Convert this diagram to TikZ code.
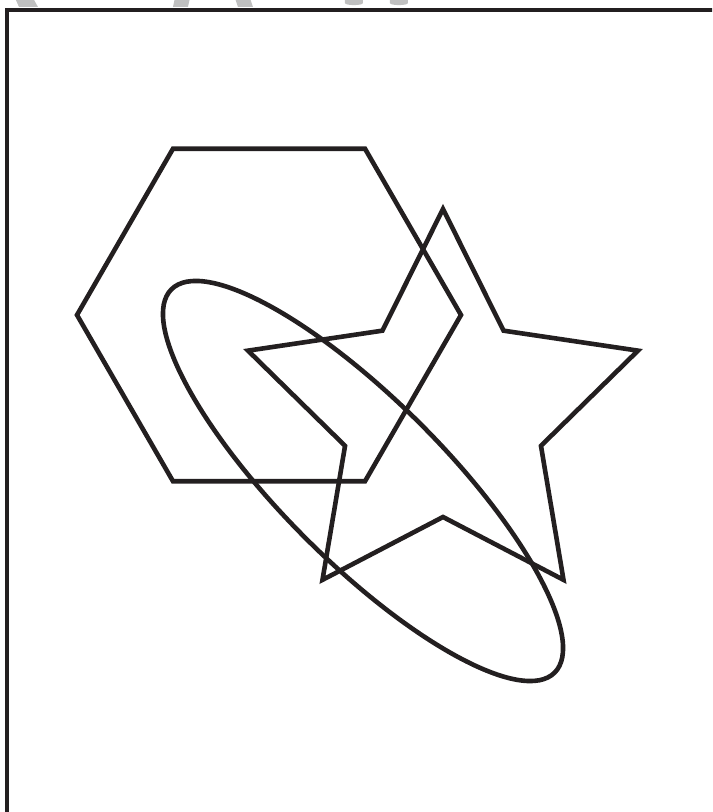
\documentclass[tikz,border=0pt]{standalone}
\usepackage{xcolor}
\definecolor{shapeblack}{RGB}{35,31,32}
\definecolor{markgray}{RGB}{192,192,192}
\usetikzlibrary{calc}

\begin{document}
\begin{tikzpicture}
  \useasboundingbox (0,0) rectangle (17.8,20.3);
  \clip (0,0) rectangle (17.8,20.3);
  \tikzset{outline/.style={draw=shapeblack, line width=0.115cm, line join=miter}}

  % Cut-off watermark at top
  \begin{scope}[shift={(0,20.3)}, x=0.025cm, y=-0.025cm]
    \fill[markgray] (15,-2) -- (33,-2) -- (38,7) -- (19,7) -- cycle;
    \fill[markgray] (175,-2) -- (190,-2) -- (188,7) -- (173,7) -- cycle;
    \fill[markgray] (235,-2) -- (250,-2) -- (253,7) -- (238,7) -- cycle;
    \fill[markgray] (345,-2) -- (363,-2) -- (363,3) to[out=-90,in=-90,looseness=0.4] (345,3) -- cycle;
    \fill[markgray] (390,-2) -- (408,-2) -- (408,3) to[out=-90,in=-90,looseness=0.4] (390,3) -- cycle;
  \end{scope}

  % Frame
  \draw[shapeblack, line width=2.2pt] (0.175,-1) -- (0.175,20.05) -- (19,20.05);

  % Hexagon
  \coordinate (hexc) at (6.725,12.425);
  \draw[outline] ($(hexc)+(0:4.8)$)
    \foreach \a in {60,120,...,300} { -- ($(hexc)+(\a:4.8)$) } -- cycle;

  % Star
  \coordinate (starc) at (11.075,9.95);
  \draw[outline] ($(starc)+(90:5.125)$)
    \foreach \a in {90,162,234,306,378} { -- ($(starc)+(\a:5.125)$) -- ($(starc)+(\a+36:2.575)$) } -- cycle;

  % Ellipse
  \coordinate (ellc) at (9.075,8.275);
  \draw[outline, rotate around={-45:(ellc)}] (ellc) ellipse [x radius=6.775, y radius=2.025];
\end{tikzpicture}
\end{document}
